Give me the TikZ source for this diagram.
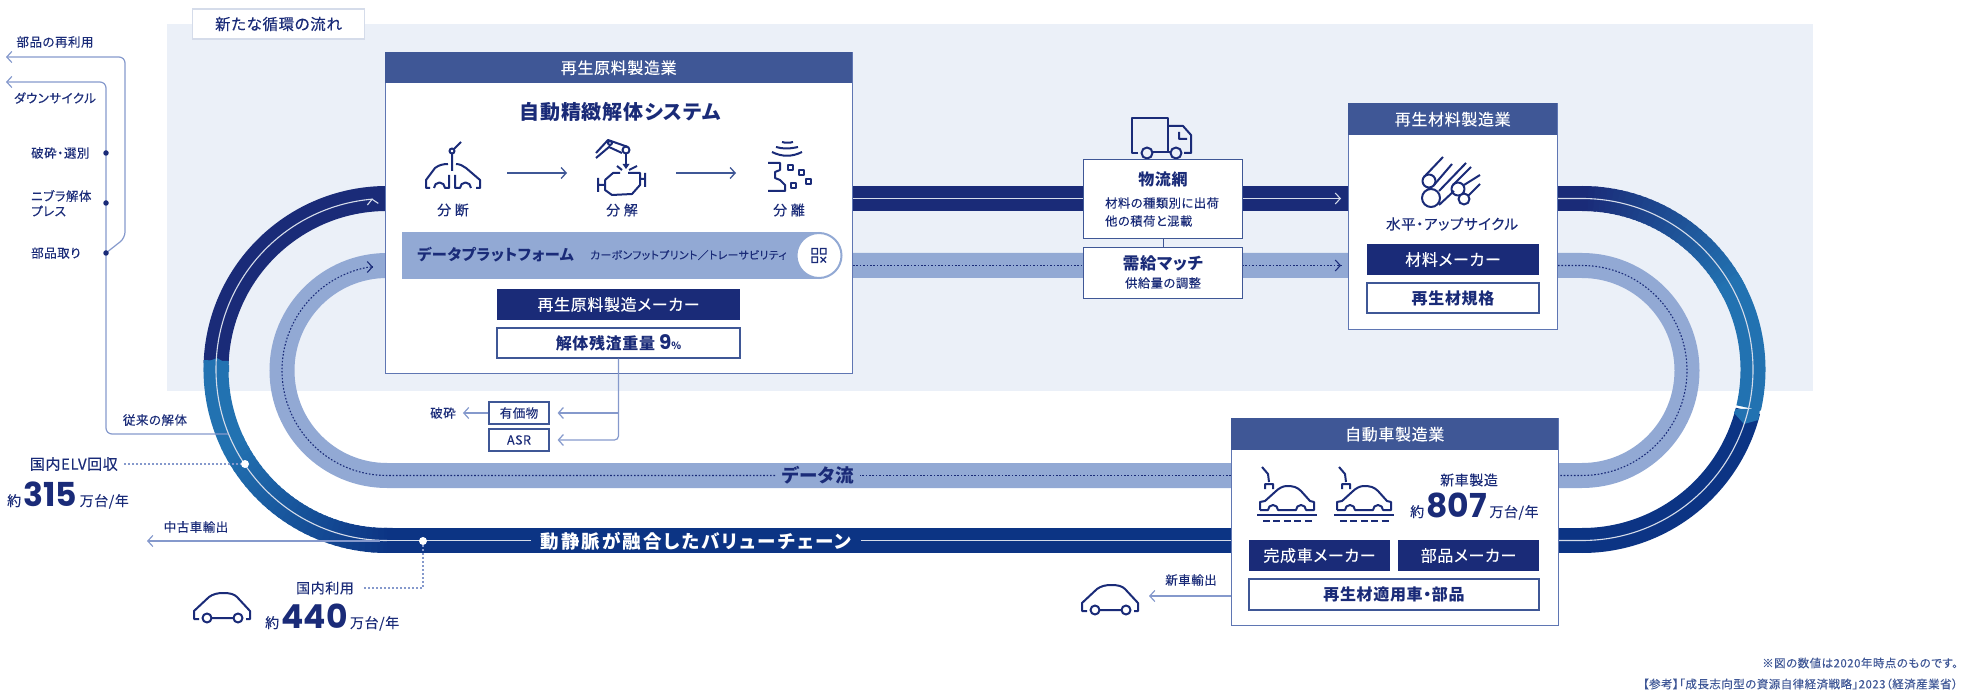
\documentclass[tikz,border=0pt]{standalone}
\usepackage{fontspec}
\setmainfont{Noto Sans CJK JP}[LetterSpace=4,RawFeature=+palt,FakeBold=0.15,BoldFeatures={FakeBold=0}]
\newfontfamily\numfont{Poppins}
\usetikzlibrary{arrows.meta}

\definecolor{navy}{HTML}{1A2B78}
\definecolor{deepblue}{HTML}{0C3484}
\definecolor{midblue}{HTML}{2272B1}
\definecolor{headblue}{HTML}{3F5796}
\definecolor{bandlight}{HTML}{92A9D4}
\definecolor{panelbg}{HTML}{EBF0F8}
\definecolor{flowblue}{HTML}{8599CC}
\definecolor{edgeblue}{HTML}{5F76B3}
\definecolor{paleline}{HTML}{D5DCEA}

\newcommand{\fsz}[1]{\fontsize{#1}{#1}\selectfont}

\tikzset{
    >={Straight Barb[length=5pt,width=11pt]},
    lbl/.style={text=navy, inner sep=0, font=\fsz{12.5}},
    panel/.style={draw=edgeblue, fill=white, line width=1.2pt, anchor=north west, inner sep=0},
    headbar/.style={fill=headblue, text=white, anchor=north west, inner sep=0, font=\fsz{16}},
    darkbtn/.style={fill=navy, text=white, inner sep=0, font=\fsz{16}},
    linebtn/.style={draw=headblue, fill=white, text=navy, line width=1.3pt, inner sep=0, font=\bfseries\fsz{16}},
    tinybox/.style={draw=headblue, fill=white, text=navy, line width=1.2pt, inner sep=0, minimum width=60pt, minimum height=22pt, font=\fsz{12.5}},
    flowline/.style={draw=flowblue, line width=1.2pt},
    paleflow/.style={draw=paleline, line width=1.1pt},
    dotflow/.style={draw=navy, line width=1.1pt, dash pattern=on 1.6pt off 1.8pt},
    dotlink/.style={draw=flowblue, line width=1.1pt, dash pattern=on 2pt off 2pt},
    navydot/.style={circle, fill=navy, inner sep=0, minimum size=5.5pt},
    whitedot/.style={circle, fill=white, inner sep=0, minimum size=8pt},
    icon/.style={draw=navy, line width=2pt, line join=round},
    carside/.pic={
        \draw[icon] (-23,11) -- (-28,11) -- (-28,3) -- (-13,-11) .. controls (-9,-14) and (-4,-15) .. (1,-15) .. controls (8,-15) and (12,-14) .. (15,-11) -- (28,3) -- (28,11) -- (24,11);
        \draw[icon] (-15,10) circle (4.5pt) (16,10) circle (4.5pt) (-10.5,10) -- (11.5,10);
    },
    carline/.pic={
        \draw[icon] (-27,10) -- (-27,2) -- (-22,1) -- (-12,-8) .. controls (-8,-12) and (-4,-14) .. (0,-14) .. controls (6,-14) and (10,-13) .. (14,-9) -- (23,1) -- (27,2) -- (27,10) -- (19,10) arc[start angle=0,end angle=180,radius=5pt] -- (-9,10) arc[start angle=0,end angle=180,radius=5pt] -- (-27,10);
        \draw[icon] (-30,15) -- (30,15);
        \draw[icon, dash pattern=on 7pt off 3.4pt] (-24,20.5) -- (26,20.5);
        \draw[icon] (-25,-33) -- (-19,-26) -- (-18,-18) (-22,-11) -- (-22,-16) -- (-14,-16) -- (-14,-11);
    },
    cuticon/.pic={
        \draw[icon] (8,-31) -- (1,-24) (-1,-19) -- (-1,-2);
        \draw[icon] (-1,-22) circle (2.5pt);
        \draw[icon] (-23,15) -- (-27,15) -- (-27,7) -- (-18,-5) .. controls (-14,-8) and (-10,-9) .. (-5,-9) (3,-9) .. controls (7,-9) and (10,-7) .. (13,-5) -- (27,7) -- (27,15) -- (23,15);
        \draw[icon] (-19,15) arc[start angle=180,end angle=0,radius=5.5pt] -- (-4,15) -- (-4,2) (2,2) -- (2,15) -- (7,15) arc[start angle=180,end angle=0,radius=5.5pt];
    },
    roboticon/.pic={
        \draw[icon] (-26,-20) -- (-14,-33) -- (6,-26) (-26,-15) -- (-13,-26) -- (0,-20);
        \draw[icon] (-12,-30) circle (2pt) (4,-23) circle (3.5pt);
        \draw[icon] (4,-19) -- (4,-8);
        \fill[navy] (0.5,-9) -- (7.5,-9) -- (4,-4) -- cycle;
        \draw[icon] (-5,-7) -- (0,-3) (15,-7) -- (7,-3);
        \draw[icon] (-24,5) -- (-24,19) (-24,12) -- (-17,12) (-17,7) -- (-9,0) -- (-2,0) (-17,7) -- (-17,17) -- (-10,22) -- (10,21) -- (18,12) -- (18,0) -- (6,0) (18,6) -- (23,6) (23,0) -- (23,14);
    },
    sorticon/.pic={
        \draw[icon] (-17,-21) .. controls (-7,-16) and (3,-16) .. (13,-21) (-13,-26) .. controls (-6,-24) and (0,-24) .. (9,-26) (-7,-31) .. controls (-4,-30) and (1,-30) .. (4,-31);
        \draw[icon] (-21,-10) -- (-9,-10) -- (-9,-3) -- (-14,-1) -- (-14,5) -- (-9,7) -- (-4,12) -- (-4,18) -- (-21,18);
        \foreach \sx/\sy in {1/-5,12/0,19/9,4/13} {
            \draw[icon] (\sx-2.5,\sy-2.5) rectangle (\sx+2.5,\sy+2.5);
        }
    },
    truckicon/.pic={
        \draw[icon] (-24,15) -- (-30,15) -- (-30,-20) -- (6,-20) -- (6,14) (-9,14) -- (8,14);
        \draw[icon] (6,-12) -- (21,-12) -- (29,-3) -- (29,15) -- (22,15) (17,-6) -- (17,1) -- (25,1);
        \draw[icon] (-15,15) circle (5.5pt) (14,15) circle (5.5pt);
    },
    rodicon/.pic={
        \draw[icon] (-20,16) circle (9pt) (-22,-1) circle (6.5pt) (7,7) circle (6.5pt) (13,17) circle (5.5pt);
        \draw[icon] (-27,-5) -- (-8,-25) (-17,3) -- (1,-18) (-12,9) -- (15,-19) (2,3) -- (20,-15) (13,3) -- (29,-7) (17,14) -- (29,2) (-12,23) -- (3,9);
    },
    qricon/.pic={
        \draw[navy, line width=1.3pt] (-7,-7) rectangle (-1.5,-1.5) (1.5,-7) rectangle (7,-1.5) (-7,1.5) rectangle (-1.5,7) (1.5,1.5) -- (7,7) (1.5,7) -- (7,1.5);
    },
}

\begin{document}
\begin{tikzpicture}[x=1pt, y=-1pt]
    \useasboundingbox (0,0) rectangle (1968,700);

    \fill[panelbg] (167,24) rectangle (1813,391);

    % outer loop
    \coordinate (lc) at (387,369.5);
    \coordinate (rc) at (1582,369.5);
    \tikzset{outerband/.style={line width=25pt}}
    \draw[outerband, navy] (lc) ++(90:171pt) arc[start angle=90, end angle=178, radius=171pt];
    \draw[outerband, midblue] (lc) ++(177:171pt) arc[start angle=177, end angle=206, radius=171pt];
    \foreach \a in {205,207,...,270} {
        \pgfmathsetmacro\m{(\a-205)/65*100}
        \draw[outerband, draw=deepblue!\m!midblue] (lc) ++(\a:171pt) arc[start angle=\a, end angle=\a+3, radius=171pt];
    }
    \draw[outerband, navy] (387,198.5) -- (1582,198.5);
    \draw[outerband, deepblue] (387,540.5) -- (1582,540.5);
    \foreach \a in {90,88,...,30} {
        \pgfmathsetmacro\m{(90-\a)/60*100}
        \draw[outerband, draw=midblue!\m!navy] (rc) ++(\a:171pt) arc[start angle=\a, end angle=\a-3, radius=171pt];
    }
    \draw[outerband, midblue] (rc) ++(31:171pt) arc[start angle=31, end angle=-13, radius=171pt];
    \draw[outerband, deepblue] (rc) ++(-14:171pt) arc[start angle=-14, end angle=-90, radius=171pt];
    \fill[midblue] (204,363) -- (217,358) -- (229,365) -- (229,372) -- (203.5,372) -- cycle; %left kink
    \fill[midblue] (1734,413) -- (1744,424) -- (1758.4,420) -- (1760,409) -- (1735.5,409) -- cycle; %right kink

    % inner loop
    \draw[bandlight, line width=25pt] (387,265.5) -- (1582,265.5) arc[start angle=90, end angle=-90, radius=105pt] -- (387,475.5) arc[start angle=270, end angle=90, radius=105pt];

    % pale centre lines
    \coordinate (topin) at (372,198.5);
    \coordinate (topout) at (1341,198.5);
    \draw[paleflow, ->] (lc) ++(270:171pt) arc[start angle=270, end angle=95, radius=171pt] -- (topin);
    \draw[paleflow, ->] (853,198.5) -- (topout);
    \draw[paleflow] (1558,198.5) -- (1582,198.5) arc[start angle=90, end angle=-90, radius=171pt] -- (1231,540.5);
    \draw[paleflow] (1231,540.5) -- (861,540.5);
    \draw[paleflow] (531,540.5) -- (387,540.5);

    % dotted centre lines
    \coordinate (inin) at (373,267);
    \coordinate (inout) at (1341,265.5);
    \draw[dotflow] (1558,265.5) -- (1582,265.5) arc[start angle=90, end angle=-90, radius=105pt] -- (1231,475.5);
    \draw[dotflow] (1231,475.5) -- (860,475.5);
    \draw[dotflow] (775,475.5) -- (387,475.5) arc[start angle=270, end angle=100, radius=105pt] -- (inin);
    \draw[dotflow] (853,265.5) -- (1083,265.5);
    \draw[dotflow] (1242,265.5) -- (inout);
    \draw[navy, line width=1.1pt, ->] ([xshift=-1pt]inin) -- (inin);
    \draw[navy, line width=1.1pt, ->] ([xshift=-1pt]inout) -- (inout);

    \node[lbl, font=\bfseries\fsz{18.5}] (datalbl) at (818,475) {データ流};
    \node[text=white, inner sep=0, font=\bfseries\fsz{18.5}\addfontfeature{LetterSpace=11}] (chainlbl) at (696,541) {動静脈が融合したバリューチェーン};

    % tag
    \node[draw=paleline, fill=white, text=navy, line width=1.2pt, inner sep=0, minimum width=172pt, minimum height=30pt, font=\fsz{15.5}] (tag) at (278.5,24) {新たな循環の流れ};

    % main panel
    \node[panel, minimum width=467pt, minimum height=321pt] (mainbox) at (385,52) {};
    \node[headbar, minimum width=467pt, minimum height=31pt] (mainhead) at (mainbox.north west) {再生原料製造業\hspace{12pt}};
    \node[lbl, font=\bfseries\fsz{20}] (systitle) at (620,112) {自動精緻解体システム};
    \pic at (453,173) {cuticon};
    \pic at (622,173) {roboticon};
    \pic at (789,173) {sorticon};
    \node[lbl, font=\fsz{14}] (cutlbl) at (453,210) {分 断};
    \node[lbl, font=\fsz{14}] (splitlbl) at (622,210) {分 解};
    \node[lbl, font=\fsz{14}] (sortlbl) at (789,210) {分 離};
    \coordinate (cutend) at (507,173);
    \coordinate (robstart) at (567,173);
    \coordinate (robend) at (676,173);
    \coordinate (sortstart) at (736,173);
    \draw[draw=headblue, line width=1.3pt, ->] (cutend) -- (robstart);
    \draw[draw=headblue, line width=1.3pt, ->] (robend) -- (sortstart);

    \node[fill=bandlight, inner sep=0, minimum width=418pt, minimum height=47pt, anchor=north west] (databar) at (402,232) {};
    \node[circle, draw=bandlight, fill=white, line width=2pt, inner sep=0, minimum size=45pt] (qrring) at (819,255.5) {};
    \pic at (819,255.5) {qricon};
    \node[lbl, anchor=west, font=\bfseries\fsz{15.2}] (datatitle) at (417,255) {データプラットフォーム};
    \node[lbl, anchor=west, font=\fsz{10.8}] (datasub) at (590,255) {カーボンフットプリント／トレーサビリティ};

    \node[darkbtn, minimum width=243pt, minimum height=31pt] (makerbtn) at (618.5,304.5) {再生原料製造メーカー};
    \node[linebtn, minimum width=243pt, minimum height=30pt] (residue) at (618.5,343) {解体残渣重量\hspace{4pt}{\numfont\fsz{20}9}{\fsz{10}\%}};

    \node[tinybox] (valbox) at (519,413) {有価物};
    \node[tinybox] (asrbox) at (519,440) {ASR};
    \node[lbl, font=\fsz{12.5}] (crushlbl) at (443,413) {破砕};
    \draw[flowline, ->, rounded corners=4pt] (residue.south) |- ([xshift=8pt]asrbox.east);
    \draw[flowline, ->] (residue.south |- valbox) -- ([xshift=8pt]valbox.east);
    \draw[flowline, ->] (valbox.west) -- ([xshift=7pt]crushlbl.east);

    % logistics
    \pic at (1162,138) {truckicon};
    \node[panel, draw=headblue, minimum width=159pt, minimum height=79pt] (logibox) at (1083,159) {};
    \node[panel, draw=headblue, minimum width=159pt, minimum height=51pt] (matchbox) at (1083,247) {};
    \draw[draw=headblue, line width=1.2pt] (logibox) -- (matchbox);
    \node[lbl, font=\bfseries\fsz{16}] (logititle) at (1163,179) {物流網};
    \node[lbl, anchor=west, font=\fsz{12.3}] (logisub) at (1105,203) {材料の種類別に出荷};
    \node[lbl, anchor=west, font=\fsz{12.3}] (logisubb) at (1105,221) {他の積荷と混載};
    \node[lbl, font=\bfseries\fsz{16.5}] (matchtitle) at (1163,263) {需給マッチ};
    \node[lbl, font=\fsz{12.3}] (matchsub) at (1163,283) {供給量の調整};

    % material panel
    \node[panel, minimum width=209pt, minimum height=226pt] (matbox) at (1348,103) {};
    \node[headbar, minimum width=209pt, minimum height=32pt] (mathead) at (matbox.north west) {再生材料製造業\hspace{8pt}};
    \pic at (1451,182) {rodicon};
    \node[lbl, font=\fsz{14.5}] (matlbl) at (1452,224) {水平・アップサイクル};
    \node[darkbtn, minimum width=172pt, minimum height=31pt] (matbtn) at (1453,259.5) {材料メーカー};
    \node[linebtn, minimum width=172pt, minimum height=30pt] (specbtn) at (1453,298) {再生材規格};

    % car panel
    \node[panel, minimum width=327pt, minimum height=207pt] (carbox) at (1231,418) {};
    \node[headbar, minimum width=327pt, minimum height=32pt] (carhead) at (carbox.north west) {自動車製造業};
    \pic at (1287,500) {carline};
    \pic at (1364,500) {carline};
    \node[lbl, font=\fsz{14}] (newlbl) at (1469,480) {新車製造};
    \node[lbl, anchor=base west, font=\fsz{14}] (newnum) at (1410,517) {約\,{\numfont\bfseries\fsz{33}807}\,万台/年};
    \node[darkbtn, minimum width=141pt, minimum height=31pt] (oembtn) at (1319.5,555.5) {完成車メーカー};
    \node[darkbtn, minimum width=141pt, minimum height=31pt] (partbtn) at (1468.5,555.5) {部品メーカー};
    \node[linebtn, minimum width=290pt, minimum height=31pt] (usebtn) at (1394,594.5) {再生材適用車・部品};

    \node[lbl, font=\fsz{12.5}] (exportlbl) at (1191,580) {新車輸出};
    \coordinate (exportend) at (1149,596);
    \draw[flowline, ->] (carbox.west |- exportend) -- (exportend);
    \pic at (1110,600) {carside};

    % left column
    \coordinate (reuseend) at (6,57);
    \coordinate (downend) at (6,82);
    \coordinate (pickpt) at (106,253);
    \draw[flowline, ->, rounded corners=6pt] (228,434) -- (106,434) -- (106,82) -- (downend);
    \draw[flowline, ->, rounded corners=6pt] (pickpt) -- (125,238) -- (125,57) -- (reuseend);
    \node[lbl] (reuselbl) at (55,42) {部品の再利用};
    \node[lbl] (downlbl) at (55,98) {ダウンサイクル};
    \node[navydot] (crushdot) at (106,153) {};
    \node[navydot] (pressdot) at (106,203) {};
    \node[navydot] (pickdot) at (pickpt) {};
    \node[lbl, anchor=west] (crushsel) at (31,153) {破砕・選別};
    \node[lbl, anchor=west] (pressa) at (31,196) {ニブラ解体};
    \node[lbl, anchor=west] (pressb) at (31,211) {プレス};
    \node[lbl, anchor=west] (picklbl) at (31,253) {部品取り};
    \node[lbl] (oldlbl) at (155,420) {従来の解体};

    % figures
    \node[whitedot] (elvdot) at (245,464) {};
    \node[lbl, anchor=east, font=\fsz{15}] (elvlbl) at (118,464) {国内ELV回収};
    \draw[dotlink] ([xshift=6pt]elvlbl.east) -- (elvdot);
    \node[lbl, anchor=base west, font=\fsz{14}] (elvnum) at (7,506) {約\,{\numfont\bfseries\fsz{33}315}\,万台/年};

    \node[whitedot] (usedot) at (423,541) {};
    \coordinate (useexit) at (147,541);
    \draw[flowline, ->] (380,541) -- (useexit);
    \node[lbl, font=\fsz{12.5}] (usedlbl) at (196,527) {中古車輸出};
    \node[lbl, font=\fsz{14}] (domlbl) at (325,588) {国内利用};
    \draw[dotlink] (usedot) |- ([xshift=8pt]domlbl.east);
    \pic at (222,608) {carside};
    \node[lbl, anchor=base west, font=\fsz{14}] (domnum) at (265,628) {約\,{\numfont\bfseries\fsz{33}440}\,万台/年};

    % note
    \node[text=headblue, inner sep=0, anchor=east, font=\fsz{11.5}] (notea) at (1958,663) {※図の数値は2020年時点のものです。};
    \node[text=headblue, inner sep=0, anchor=east, font=\fsz{11.5}] (noteb) at (1958,684) {【参考】「成長志向型の資源自律経済戦略」2023（経済産業省）};
\end{tikzpicture}
\end{document}
